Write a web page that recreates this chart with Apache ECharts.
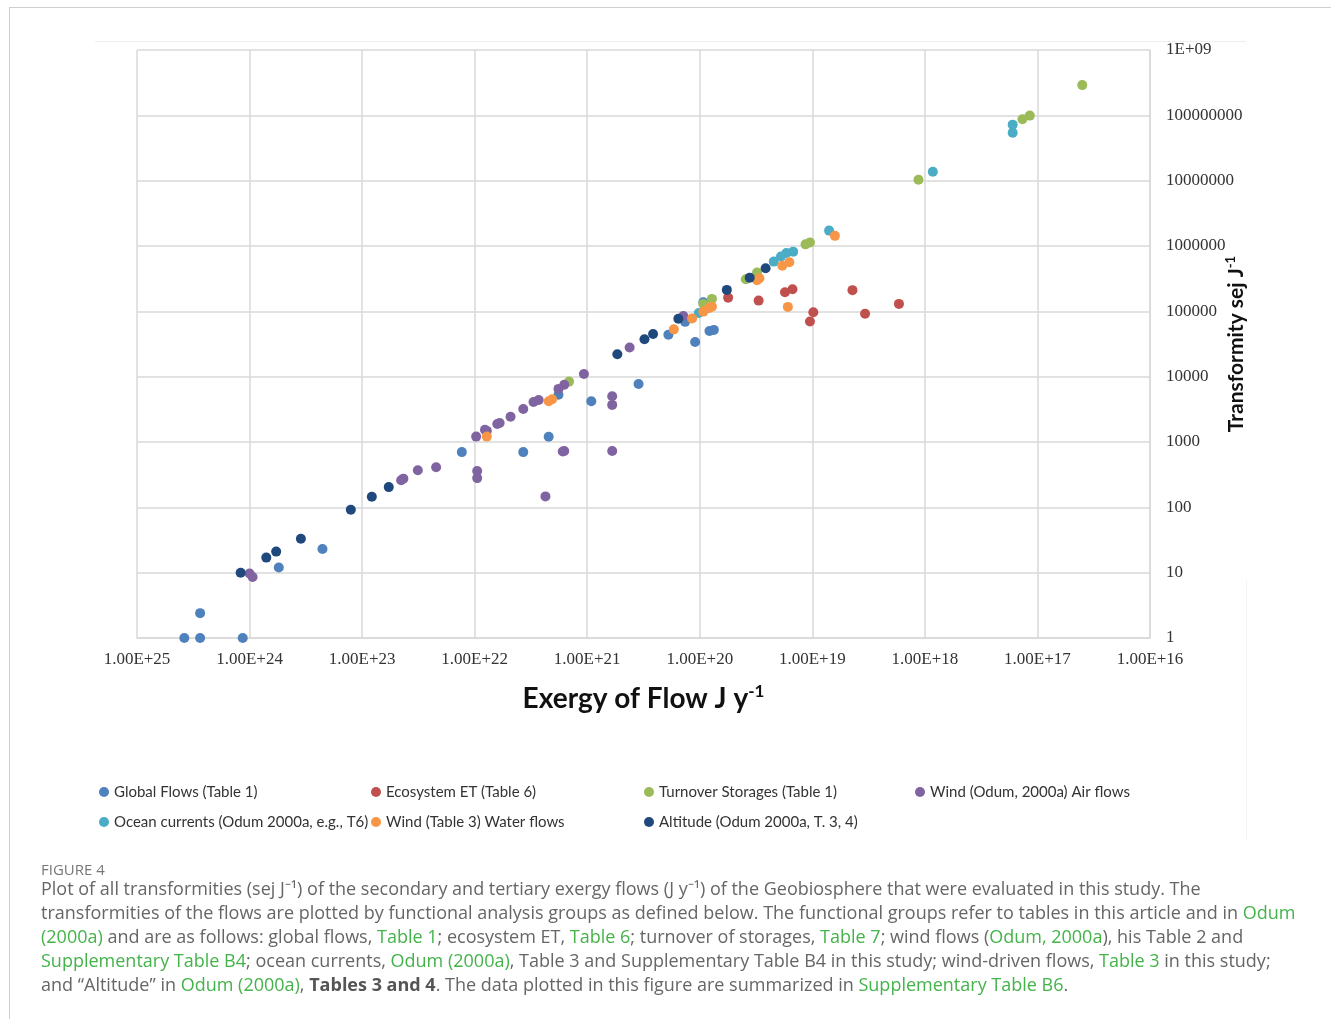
<!DOCTYPE html>
<html>
<head>
<meta charset="utf-8">
<script src="https://cdn.jsdelivr.net/npm/echarts@6/dist/echarts.min.js"></script>
<style>
  html, body { margin: 0; padding: 0; background: #fff; }
  #chart { width: 1331px; height: 1019px; }
</style>
</head>
<body>
<div id="chart"></div>
<script>
// [exergy J/y, transformity sej/J]
const globalFlows = [
  [3.8e24, 1], [2.75e24, 1], [2.75e24, 2.4], [1.15e24, 1], [5.5e23, 12], [2.25e23, 23],
  [1.3e22, 700], [3.7e21, 700], [2.2e21, 1200], [1.8e21, 5300], [9.2e20, 4200], [3.5e20, 7700],
  [1.9e20, 44000], [1.1e20, 34000], [1.35e20, 69000], [8.2e19, 50000], [7.5e19, 52000], [9.3e19, 138000]
];
const ecosystemET = [
  [5.6e19, 162000], [3.0e19, 146000], [1.75e19, 196000], [1.5e19, 218000], [9.8e18, 97000],
  [1.05e19, 70000], [4.4e18, 211000], [3.4e18, 92000], [1.7e18, 130000]
];
const turnoverStorages = [
  [1.45e21, 8400], [9.3e19, 130000], [7.8e19, 155000], [3.9e19, 310000], [3.1e19, 392000],
  [1.15e19, 1.06e6], [1.05e19, 1.13e6], [1.14e18, 1.03e7], [1.36e17, 8.7e7], [1.17e17, 9.9e7], [4.0e16, 2.9e8]
];
const windAir = [
  [1.0e24, 9.7], [9.4e23, 8.6], [4.5e22, 260], [4.3e22, 275], [3.2e22, 370], [2.2e22, 410],
  [9.5e21, 360], [9.5e21, 280], [9.7e21, 1210], [8.1e21, 1540], [7.8e21, 1480], [6.3e21, 1880],
  [6.0e21, 1950], [4.8e21, 2430], [3.7e21, 3200], [3.0e21, 4100], [2.7e21, 4400], [1.8e21, 6500],
  [1.6e21, 7500], [1.07e21, 11000], [6.0e20, 5000], [6.0e20, 3700], [1.65e21, 716], [1.6e21, 730],
  [6.0e20, 730], [2.35e21, 147], [4.2e20, 28000], [1.4e20, 85000]
];
const oceanCurrents = [
  [1.02e20, 94000], [2.2e19, 577000], [1.9e19, 690000], [1.7e19, 780000], [1.48e19, 820000],
  [7.1e18, 1.72e6], [8.5e17, 1.37e7], [1.66e17, 7.2e7], [1.66e17, 5.4e7]
];
const windWater = [
  [7.8e21, 1210], [2.2e21, 4200], [2.05e21, 4500], [1.7e20, 53000], [1.17e20, 78000],
  [9.3e19, 99000], [8.3e19, 112000], [7.8e19, 118000], [3.1e19, 300000], [2.95e19, 320000],
  [1.85e19, 500000], [1.6e19, 565000], [1.65e19, 117000], [6.3e18, 1.43e6]
];
const altitude = [
  [1.2e24, 10], [7.1e23, 17], [5.8e23, 21], [3.5e23, 33], [1.26e23, 92], [8.2e22, 145],
  [5.8e22, 204], [5.4e20, 22000], [3.1e20, 37500], [2.6e20, 45000], [1.55e20, 77000],
  [5.75e19, 213000], [3.6e19, 328000], [2.6e19, 457000]
];

const seriesNames = [
  'Global Flows (Table 1)', 'Ecosystem ET (Table 6)', 'Turnover Storages (Table 1)',
  'Wind (Odum, 2000a) Air flows', 'Ocean currents (Odum 2000a, e.g., T6)',
  'Wind (Table 3) Water flows', 'Altitude (Odum 2000a, T. 3, 4)'
];
const seriesData = [globalFlows, ecosystemET, turnoverStorages, windAir, oceanCurrents, windWater, altitude];
const colors = ['#4F81BD', '#C0504D', '#9BBB59', '#8064A2', '#4BACC6', '#F79646', '#1F497D'];

const chart = echarts.init(document.getElementById('chart'));

const grey = '#666666';
const green = '#44b34a';
const captionRich = {
  t: { fontFamily: 'Open Sans', fontSize: 18, fill: grey },
  g: { fontFamily: 'Open Sans', fontSize: 18, fill: green },
  b: { fontFamily: 'Open Sans', fontSize: 18, fill: '#555', fontWeight: 'bold' }
};
const captionLines = [
  '{t|Plot of all transformities (sej J⁻¹) of the secondary and tertiary exergy flows (J y⁻¹) of the Geobiosphere that were evaluated in this study. The}',
  '{t|transformities of the flows are plotted by functional analysis groups as defined below. The functional groups refer to tables in this article and in }{g|Odum}',
  '{g|(2000a)}{t| and are as follows: global flows, }{g|Table 1}{t|; ecosystem ET, }{g|Table 6}{t|; turnover of storages, }{g|Table 7}{t|; wind flows (}{g|Odum, 2000a}{t|), his Table 2 and}',
  '{g|Supplementary Table B4}{t|; ocean currents, }{g|Odum (2000a)}{t|, Table 3 and Supplementary Table B4 in this study; wind-driven flows, }{g|Table 3}{t| in this study;}',
  '{t|and “Altitude” in }{g|Odum (2000a)}{t|, }{b|Tables 3 and 4}{t|. The data plotted in this figure are summarized in }{g|Supplementary Table B6}{t|.}'
];

const graphics = [
  { type: 'line', shape: { x1: 9, y1: 7.5, x2: 1331, y2: 7.5 }, style: { stroke: '#cfcfcf', lineWidth: 1 } },
  { type: 'line', shape: { x1: 9.5, y1: 7, x2: 9.5, y2: 1019 }, style: { stroke: '#cfcfcf', lineWidth: 1 } },
  { type: 'line', shape: { x1: 95, y1: 41.5, x2: 1246, y2: 41.5 }, style: { stroke: '#eeeeee', lineWidth: 1 } },
  { type: 'line', shape: { x1: 1246.5, y1: 580, x2: 1246.5, y2: 840 }, style: { stroke: '#f3f3f3', lineWidth: 1 } },
  {
    type: 'text', left: 41, top: 863,
    style: { text: 'FIGURE 4', font: '15px "Open Sans"', fill: '#777' }
  }
];
captionLines.forEach(function (line, i) {
  graphics.push({
    type: 'text', left: 41, top: 881 + i * 24,
    style: { text: line, rich: captionRich }
  });
});

// legend is laid out in four columns like the original
const legendCols = [[0, 4], [1, 5], [2, 6], [3]];
const legendLeft = [94, 366, 639, 910];
const legends = legendCols.map(function (col, i) {
  return {
    orient: 'vertical',
    left: legendLeft[i],
    top: 778,
    itemGap: 12,
    itemWidth: 10,
    itemHeight: 10,
    icon: 'circle',
    data: col.map(function (k) { return seriesNames[k]; }),
    textStyle: { fontFamily: 'Lato', fontSize: 15, color: '#333', lineHeight: 18 }
  };
});

chart.setOption({
  animation: false,
  color: colors,
  grid: { left: 137, right: 181, top: 50, bottom: 381 },
  legend: legends,
  graphic: graphics,
  xAxis: {
    type: 'log',
    logBase: 10,
    min: 1e16,
    max: 1e25,
    interval: 1,
    inverse: true,
    name: '{a|Exergy of Flow J y}{s|-1}',
    nameLocation: 'middle',
    nameGap: 45,
    nameTextStyle: {
      rich: {
        a: { fontFamily: 'Lato', fontWeight: 'bold', fontSize: 28, color: '#111', lineHeight: 32 },
        s: { fontFamily: 'Lato', fontWeight: 'bold', fontSize: 17, color: '#111', verticalAlign: 'top', lineHeight: 32 }
      }
    },
    axisLine: { show: true, lineStyle: { color: '#d9d9d9', width: 1.5 } },
    axisTick: { show: false },
    splitLine: { show: true, lineStyle: { color: '#d9d9d9', width: 1.5 } },
    axisLabel: {
      margin: 13,
      fontFamily: 'Liberation Serif',
      fontSize: 17,
      color: '#333',
      formatter: function (v) {
        return '1.00E+' + Math.round(Math.log10(v));
      }
    }
  },
  yAxis: {
    type: 'log',
    logBase: 10,
    min: 1,
    max: 1e9,
    interval: 1,
    position: 'right',
    name: '{a|Transformity sej J}{s|-1}',
    nameLocation: 'middle',
    nameGap: 74,
    nameMoveOverlap: false,
    nameTextStyle: {
      rich: {
        a: { fontFamily: 'Lato', fontWeight: 'bold', fontSize: 21, color: '#111', lineHeight: 24 },
        s: { fontFamily: 'Lato', fontWeight: 'bold', fontSize: 13, color: '#111', verticalAlign: 'top', lineHeight: 24 }
      }
    },
    axisLine: { show: true, lineStyle: { color: '#d9d9d9', width: 1.5 } },
    axisTick: { show: false },
    splitLine: { show: true, lineStyle: { color: '#d9d9d9', width: 1.5 } },
    axisLabel: {
      margin: 16,
      align: 'left',
      fontFamily: 'Liberation Serif',
      fontSize: 17,
      color: '#333',
      formatter: function (v) {
        const e = Math.round(Math.log10(v));
        return e === 9 ? '1E+09' : String(Math.pow(10, e));
      }
    }
  },
  series: seriesNames.map(function (name, i) {
    return {
      name: name,
      type: 'scatter',
      symbol: 'circle',
      symbolSize: 10,
      itemStyle: { opacity: 1 },
      data: seriesData[i],
      z: 2 + i
    };
  })
});
</script>
</body>
</html>
